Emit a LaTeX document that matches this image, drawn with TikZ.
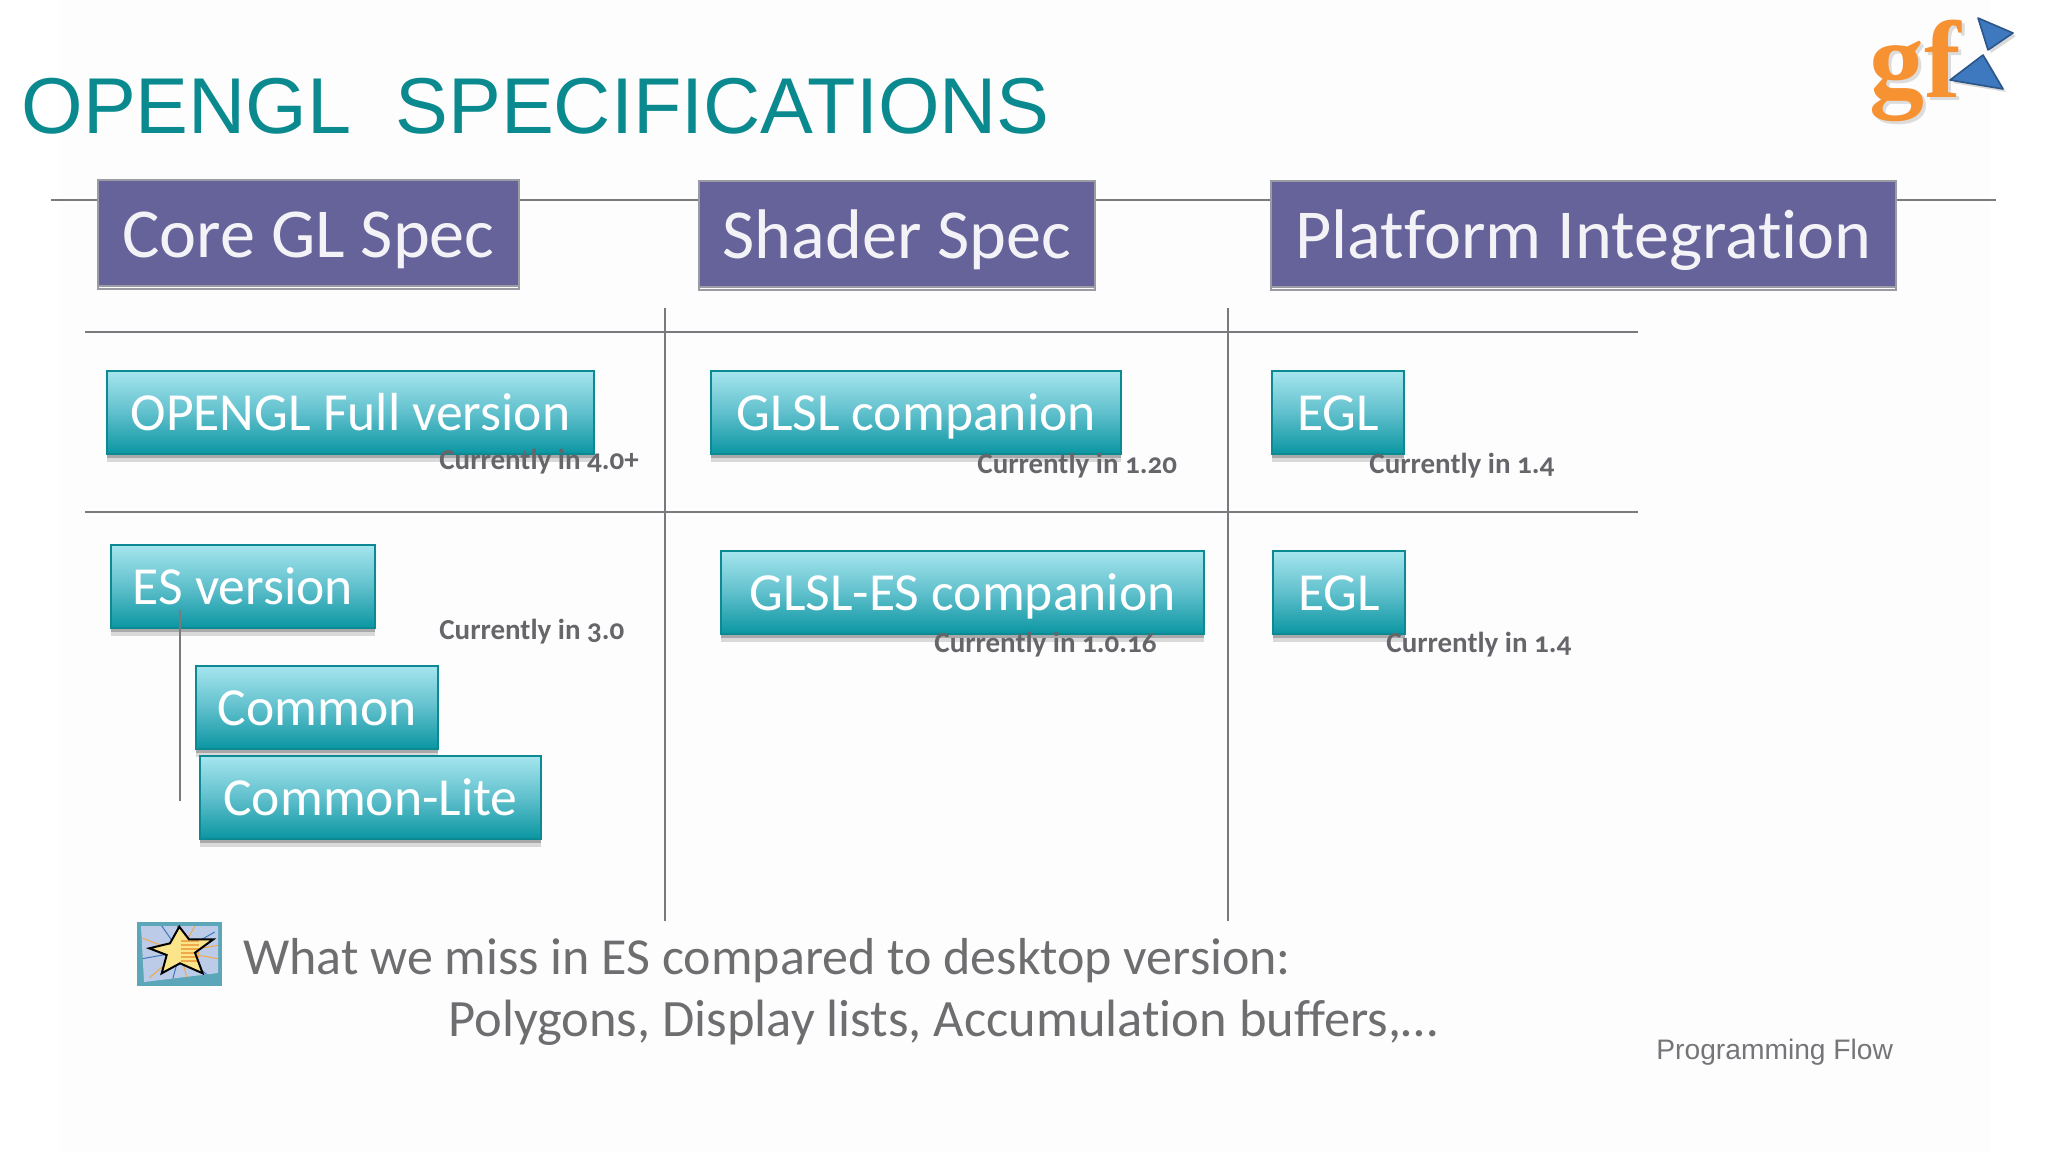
\documentclass[tikz,border=0pt]{standalone}
\usepackage{fontspec}
\setmainfont{Carlito}[Ligatures=NoCommon]
\newfontfamily\arialf{Liberation Sans}
\newfontfamily\logof{Liberation Serif}
\newfontfamily\oldf{Carlito}[Numbers=OldStyle,Ligatures=NoCommon]
\definecolor{bgc}{HTML}{FEFDFE}
\definecolor{teal1}{HTML}{0A8A8F}
\definecolor{hdr}{HTML}{66639A}
\definecolor{hdrb}{HTML}{9B9BA3}
\definecolor{ruleg}{HTML}{7A7A7E}
\definecolor{txtg}{HTML}{66666A}
\definecolor{boxtop}{HTML}{A6E5EE}
\definecolor{boxmid}{HTML}{5FC0CC}
\definecolor{boxbot}{HTML}{0A96A2}
\definecolor{boxb}{HTML}{0C8A93}
\definecolor{iconf}{HTML}{5BA6B8}
\definecolor{iconi}{HTML}{BCCBE8}
\definecolor{stary}{HTML}{FBE58A}
\definecolor{starl}{HTML}{EFA94A}
\definecolor{logoo}{HTML}{F79232}
\definecolor{logob}{HTML}{3E78BE}
\definecolor{logod}{HTML}{2B5688}
\tikzset{
  x=0.5pt,y=-0.5pt,
  rulel/.style={draw=ruleg,line width=0.9pt},
  headbox/.style={anchor=north west,inner sep=0pt,outer sep=0pt,fill=hdr,draw=hdrb,line width=1.1pt,
    text=white!92!hdr,font=\fontsize{35.1}{40}\selectfont,text height=25.5pt,text depth=1.5pt,
    preaction={draw=hdrb,line width=1.1pt,transform canvas={yshift=-1.5pt}}},
  tealbox/.style={anchor=north west,inner sep=0pt,outer sep=0pt,draw=boxb,line width=0.7pt,
    top color=boxtop,bottom color=boxbot,middle color=boxmid,
    text=white,font=\fontsize{26.8}{32}\selectfont,text height=19pt,text depth=1pt,
    preaction={fill=black,opacity=.14,transform canvas={yshift=-4pt}},
    preaction={fill=black,opacity=.22,transform canvas={yshift=-2.2pt}}},
  curr/.style={anchor=west,inner sep=0pt,text=txtg,font=\oldf\bfseries\fontsize{14.5}{17}\selectfont},
  bottomt/.style={anchor=west,inner sep=0pt,text=txtg!95!white,font=\fontsize{26}{31}\selectfont},
}
\begin{document}
\begin{tikzpicture}
\useasboundingbox (0,0) rectangle (2048,1152);
\fill[white] (0,0) rectangle (2048,1152);
\fill[bgc] (60,0) rectangle (1990,1152);

% rule end points
\coordinate (hl) at (51,200);  \coordinate (hr) at (1996,200);
\coordinate (t1l) at (85,332); \coordinate (t1r) at (1638,332);
\coordinate (t2l) at (85,512); \coordinate (t2r) at (1638,512);
\coordinate (v1t) at (665,308); \coordinate (v1b) at (665,921);
\coordinate (v2t) at (1228,308); \coordinate (v2b) at (1228,921);
\draw[rulel] (hl) -- (hr);
\draw[rulel] (t1l) -- (t1r);
\draw[rulel] (t2l) -- (t2r);
\draw[rulel] (v1t) -- (v1b);
\draw[rulel] (v2t) -- (v2b);

% title
\node[anchor=base west,inner sep=0pt,text=teal1,font=\arialf\fontsize{39.6}{48}\selectfont] (title) at (21,133) {OPENGL\ \ SPECIFICATIONS};

% headers
\node[headbox,minimum width=210.5pt,minimum height=53pt] (core) at (98,180) {Core GL Spec};
\node[headbox,minimum width=198pt,minimum height=53pt] (shader) at (699,181) {Shader Spec};
\node[headbox,minimum width=312.5pt,minimum height=53pt] (plat) at (1271,181) {Platform Integration};

% teal boxes
\node[tealbox,minimum width=243.5pt,minimum height=41.5pt] (full) at (107,371) {OPENGL Full version};
\node[tealbox,minimum width=205pt,minimum height=41.5pt] (glsl) at (711,371) {GLSL companion};
\node[tealbox,minimum width=66pt,minimum height=41.5pt] (egla) at (1272,371) {EGL};
\node[tealbox,minimum width=132pt,minimum height=41.5pt] (es) at (111,545) {ES version};
\node[tealbox,minimum width=241.5pt,minimum height=41.5pt] (glsles) at (721,551) {GLSL-ES companion};
\node[tealbox,minimum width=66pt,minimum height=41.5pt] (eglb) at (1273,551) {EGL};
\node[tealbox,minimum width=121pt,minimum height=41.5pt] (common) at (196,666) {Common};
\node[tealbox,minimum width=170.5pt,minimum height=41.5pt] (lite) at (200,756) {Common-Lite};

% ES branch
\coordinate (bt) at (180,610);
\coordinate (bb) at (180,801);
\draw[rulel] (bt) -- (bb);

% version labels
\node[curr] (l1) at (439,462) {Currently in 4.0+};
\node[curr] (l2) at (977,466) {Currently in 1.20};
\node[curr] (l3) at (1369,466) {Currently in 1.4};
\node[curr] (l4) at (439,632) {Currently in 3.0};
\node[curr] (l5) at (934,645) {Currently in 1.0.16};
\node[curr] (l6) at (1386,645) {Currently in 1.4};

% star icon
\fill[iconf] (137,922) rectangle (222,986);
\fill[iconi] (141,926) -- (218,926) -- (218,973) -- (144,982) -- cycle;
\begin{scope}
\clip (141,926) -- (218,926) -- (218,973) -- (144,982) -- cycle;
\foreach \a/\c in {10/starl,40/logob,75/starl,105/logob,140/starl,170/logob,200/starl,235/logob,265/logob,300/starl,330/logob,350/starl}
  \draw[\c,line width=0.5pt] (180,952) -- ++(\a:40);
\end{scope}
\fill[stary] (179.3,926.7) -- (189,939.3) -- (213.3,939.3) -- (195,952.7) -- (202.7,973.3) -- (180,963.3) -- (161.7,973.3) -- (166.7,955) -- (149.3,948.3) -- (170,943.3) -- cycle;
\foreach \y in {941,945,949,953,957,961}
  \draw[starl,line width=0.6pt] (181,\y) -- (199,\y);
\draw[black,line width=1pt,line join=miter]
  (179.3,926.7) -- (189,939.3) -- (213.3,939.3) -- (195,952.7) -- (202.7,973.3) -- (180,963.3) -- (161.7,973.3) -- (166.7,955) -- (149.3,948.3) -- (170,943.3) -- cycle;

% bottom text
\node[bottomt] (b1) at (243,961) {What we miss in ES compared to desktop version:};
\node[bottomt,font=\fontsize{26.25}{31}\selectfont] (b2) at (448,1023) {Polygons, Display lists, Accumulation buffers,…};
\node[anchor=west,inner sep=0pt,text=txtg!90!white,font=\arialf\fontsize{14.1}{17}\selectfont] (pf) at (1656,1052) {Programming Flow};

% logo
\node[anchor=base west,inner sep=0pt,text=black!22,opacity=.6,font=\logof\bfseries\fontsize{55}{55}\selectfont] (gfs) at (1872,100) {gf};
\node[anchor=base west,inner sep=0pt,text=logoo,font=\logof\bfseries\fontsize{55}{55}\selectfont] (gf) at (1869,97) {gf};
\fill[black!25,opacity=.6] (1981,21) -- (2016,36) -- (1991,53) -- cycle;
\fill[black!25,opacity=.6] (1953,83) -- (1986,58) -- (2006,92) -- cycle;
\fill[logob,draw=logod,line width=0.8pt,line join=round] (1978,18) -- (2013,33) -- (1988,50) -- cycle;
\fill[logob,draw=logod,line width=0.8pt,line join=round] (1950,80) -- (1983,55) -- (2003,89) -- cycle;
\end{tikzpicture}
\end{document}
